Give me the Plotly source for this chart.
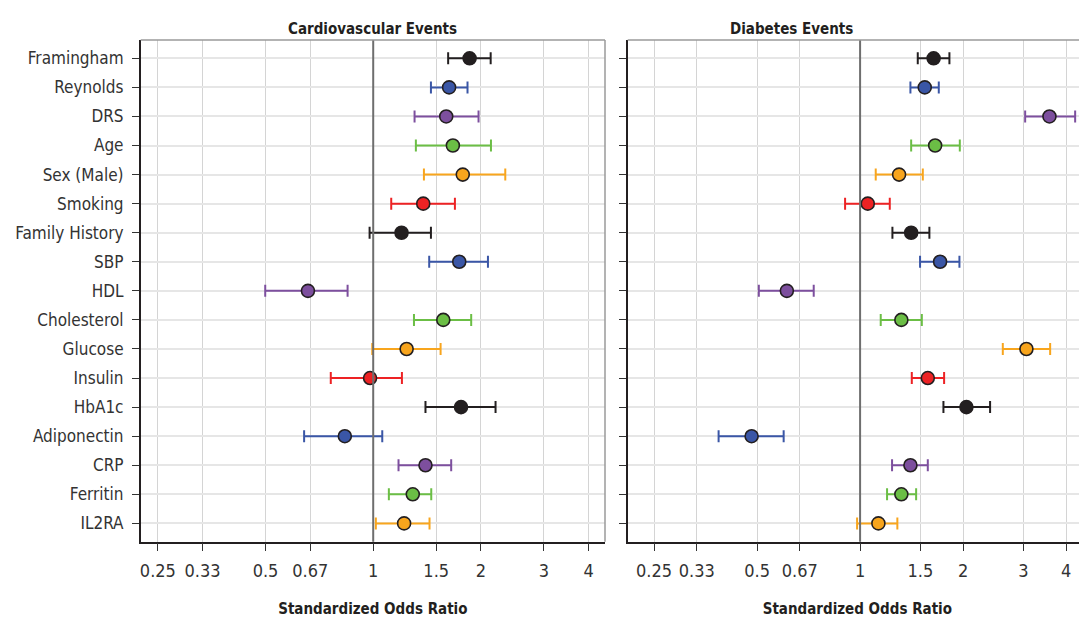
import plotly.graph_objects as go

categories = ["Framingham", "Reynolds", "DRS", "Age", "Sex (Male)", "Smoking",
              "Family History", "SBP", "HDL", "Cholesterol", "Glucose", "Insulin",
              "HbA1c", "Adiponectin", "CRP", "Ferritin", "IL2RA"]

cv_or = [1.86, 1.63, 1.60, 1.67, 1.78, 1.38, 1.20, 1.74, 0.657, 1.57, 1.24, 0.98,
         1.76, 0.833, 1.40, 1.29, 1.22]
cv_lo = [1.62, 1.45, 1.305, 1.316, 1.386, 1.123, 0.977, 1.434, 0.499, 1.30, 0.994, 0.761,
         1.40, 0.641, 1.177, 1.106, 1.017]
cv_hi = [2.13, 1.835, 1.97, 2.134, 2.34, 1.692, 1.45, 2.093, 0.848, 1.879, 1.543, 1.203,
         2.198, 1.06, 1.652, 1.453, 1.437]

db_or = [1.64, 1.545, 3.575, 1.657, 1.30, 1.053, 1.41, 1.713, 0.611, 1.32, 3.062, 1.577,
         2.045, 0.482, 1.403, 1.32, 1.131]
db_lo = [1.474, 1.403, 3.036, 1.41, 1.111, 0.904, 1.243, 1.497, 0.506, 1.149, 2.612, 1.416,
         1.752, 0.386, 1.24, 1.199, 0.98]
db_hi = [1.824, 1.698, 4.25, 1.956, 1.525, 1.221, 1.594, 1.951, 0.732, 1.515, 3.592, 1.76,
         2.398, 0.598, 1.577, 1.458, 1.285]

tick_vals = [0.25, 1/3, 0.5, 2/3, 1, 1.5, 2, 3, 4]
tick_text = ["0.25", "0.33", "0.5", "0.67", "1", "1.5", "2", "3", "4"]

palette = ["#231F20", "#3A56A6", "#7D4F9E", "#6BBE45", "#F8A51D", "#ED2224"]

OFF = 8  # default page body margin
W, H = 1087 - OFF, 619 - OFF
y_top, y_bot = 40 - OFF, 541.7 - OFF
dom_y = [1 - y_bot / H, 1 - y_top / H]
dom_x1 = [(140.7 - OFF) / W, (605 - OFF) / W]
dom_x2 = [(627.7 - OFF) / W, 1.0]

fig = go.Figure()

panels = [(cv_or, cv_lo, cv_hi, "x", "y"), (db_or, db_lo, db_hi, "x2", "y2")]
for (orv, lo, hi, xa, ya) in panels:
    for c in range(6):
        idx = [i for i in range(len(categories)) if i % 6 == c]
        xs = [orv[i] for i in idx]
        ys = [categories[i] for i in idx]
        plus = [hi[i] - orv[i] for i in idx]
        minus = [orv[i] - lo[i] for i in idx]
        fig.add_trace(go.Scatter(
            x=xs, y=ys, mode="markers", xaxis=xa, yaxis=ya, showlegend=False,
            marker=dict(size=13, color=palette[c], line=dict(color="#231F20", width=1.6)),
            error_x=dict(type="data", symmetric=False, array=plus, arrayminus=minus,
                         color=palette[c], thickness=2, width=6),
        ))

tick_font = dict(family="DejaVu Sans Condensed, sans-serif", size=17, color="#333333")
xtick_font = dict(family="DejaVu Sans Condensed, sans-serif", size=18, color="#333333")
xcommon = dict(type="log", tickvals=tick_vals, ticktext=tick_text, showgrid=True,
               gridcolor="#D4D4D4", gridwidth=1.2, ticks="outside", ticklen=8,
               tickcolor="#333333", showline=True, linecolor="#231F20", linewidth=1.5,
               zeroline=False, tickfont=xtick_font, ticklabelstandoff=4,
               title=dict(text="<b>Standardized Odds Ratio</b>", standoff=23,
                          font=dict(family="DejaVu Sans Condensed, sans-serif", size=15,
                                    color="#231F20")))
ycommon = dict(type="category", categoryorder="array", categoryarray=categories,
               range=[16.63, -0.63], showgrid=True, gridcolor="#E6E6E6", gridwidth=1.5,
               ticks="outside", ticklen=7, tickcolor="#333333", showline=True,
               linecolor="#231F20", linewidth=1.5, zeroline=False, tickfont=tick_font,
               ticklabelstandoff=5)

fig.update_layout(
    width=W, height=H, margin=dict(l=0, r=0, t=0, b=0),
    plot_bgcolor="white", paper_bgcolor="white",
    xaxis=dict(domain=dom_x1, range=[-0.650, 0.648], anchor="y", **xcommon),
    xaxis2=dict(domain=dom_x2, range=[-0.679, 0.663], anchor="y2", **xcommon),
    yaxis=dict(domain=dom_y, anchor="x", **ycommon),
    yaxis2=dict(domain=dom_y, anchor="x2", showticklabels=False, **ycommon),
)

# reference line at OR = 1 and gray top/right frame
for xa, ya in [("x", "y"), ("x2", "y2")]:
    fig.add_shape(type="line", xref=xa, yref=ya + " domain", x0=1, x1=1, y0=0, y1=1,
                  line=dict(color="#6E6E6E", width=2), layer="above")
    fig.add_shape(type="line", xref=xa + " domain", yref=ya + " domain", x0=0, x1=1, y0=1, y1=1,
                  line=dict(color="#9A9A9A", width=1.5))
fig.add_shape(type="line", xref="x domain", yref="y domain", x0=1, x1=1, y0=0, y1=1,
              line=dict(color="#9A9A9A", width=1.5))

title_font = dict(family="DejaVu Sans Condensed, sans-serif", size=15, color="#231F20")
fig.add_annotation(text="<b>Cardiovascular Events</b>", x=(dom_x1[0] + dom_x1[1]) / 2,
                   y=1 - (18 - OFF) / H, xref="paper", yref="paper", showarrow=False,
                   font=title_font)
fig.add_annotation(text="<b>Diabetes Events</b>", x=(dom_x2[0] + 1.0) / 2 - 0.002,
                   y=1 - (18 - OFF) / H, xref="paper", yref="paper", showarrow=False,
                   font=title_font)

fig.write_html("out.html")
